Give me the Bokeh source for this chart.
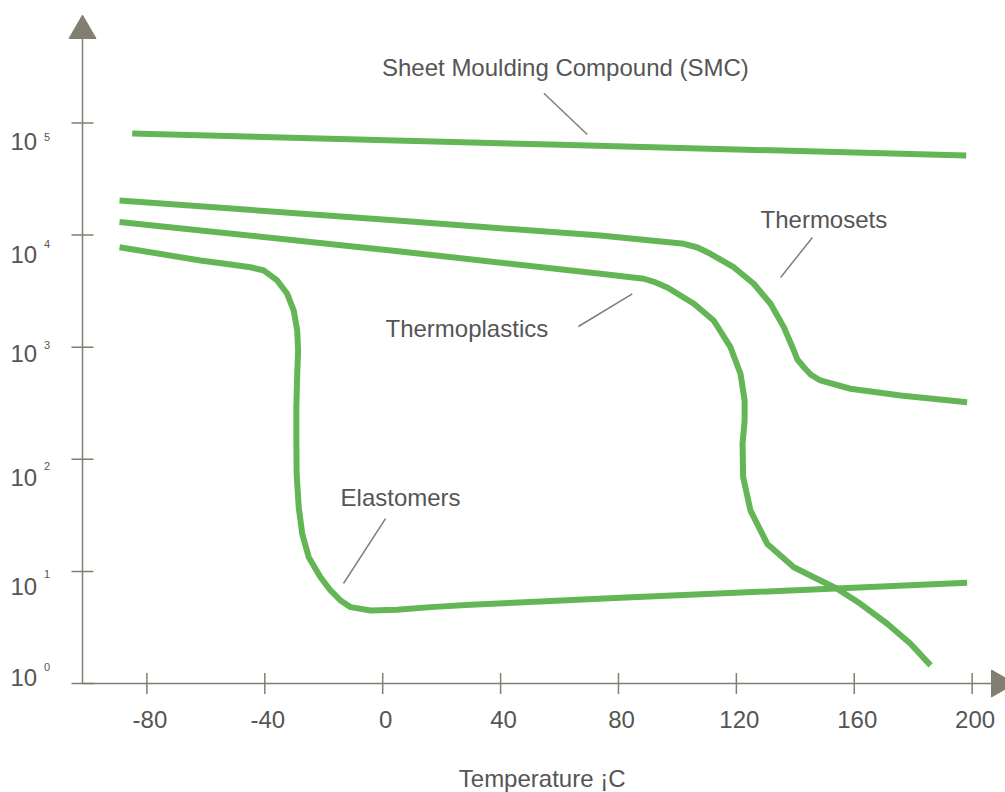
import math
from bokeh.plotting import figure
from bokeh.models import Range1d
from bokeh.embed import file_html
from bokeh.resources import INLINE
from bokeh.core.properties import value

# ---------------- data (temperature in °C, modulus on log scale) ----------------
x_ticks = [-80, -40, 0, 40, 80, 120, 160, 200]
x_tick_labels = ["-80", "-40", "0", "40", "80", "120", "160", "200"]
y_ticks = [1, 10, 100, 1000, 10000, 100000]
y_tick_base = ["10", "10", "10", "10", "10", "10"]
y_tick_exp = ["0", "1", "2", "3", "4", "5"]
x_title = "Temperature ¡C"

smc_T = [-85, 57, 198]
smc_E = [80500, 64300, 51300]

thermosets_T = [-89.3, 6.0, 73.9, 102.2, 106.8, 111.2, 119.1, 125.9, 131.6, 136.1,
                139.5, 140.7, 142.9, 145.2, 148.5, 158.7, 175.7, 198.3]
thermosets_E = [20400, 13400, 9910, 8360, 7750, 6810, 5170, 3680, 2440, 1510,
                935, 777, 663, 571, 505, 426, 371, 323]

thermoplastics_T = [-89.3, 6.0, 73.9, 88.6, 92.6, 96.6, 105.6, 112.3, 118.0, 121.4,
                    122.8, 122.8, 122.1, 122.3, 124.8, 130.5, 139.5, 148.5, 154.2,
                    162.1, 171.2, 179.1, 185.9]
thermoplastics_E = [13100, 7140, 4520, 4080, 3780, 3410, 2440, 1730, 1000, 579,
                    335, 222, 138, 69.2, 34.9, 17.6, 10.9, 8.30, 7.00,
                    5.14, 3.41, 2.26, 1.45]

elastomers_T = [-89.3, -61.8, -51.6, -44.9, -40.3, -35.8, -32.4, -30.2, -29.0, -28.7,
                -29.0, -29.3, -29.3, -29.2, -28.5, -27.3, -25.1, -21.1, -17.7, -14.3,
                -10.9, -4.1, 4.9, 16.2, 29.8, 80.7, 198.3]
elastomers_E = [7800, 5930, 5470, 5170, 4830, 3940, 2995, 2125, 1410, 935,
                579, 292, 147, 74.3, 37.4, 21.6, 13.4, 8.88, 6.76, 5.50,
                4.80, 4.48, 4.54, 4.80, 5.04, 5.82, 7.91]

curve_names = ["Sheet Moulding Compound (SMC)", "Thermosets", "Thermoplastics", "Elastomers"]
name_T = [-0.24, 128.2, 0.95, -14.3]
name_E = [260000, 11530, 1228, 38.2]

leader_T0 = [54.7, 145.8, 66.4, 0.95]
leader_E0 = [184500, 9520, 1530, 29.6]
leader_T1 = [69.4, 135.0, 84.7, -13.3]
leader_E1 = [78900, 4185, 2995, 7.80]

# ---------------- styling / layout ----------------
GREEN = "#64b556"
AXIS = "#827e72"
TEXT = "#555555"
FONT = "Liberation Sans"
FIX_BIG = 9     # vertical correction (px) for 24px text
FIX_SMALL = 4   # vertical correction (px) for 11px text

W, H = 1005, 792
PX_PER_X = 2.9472      # pixels per degree
PX_PER_DEC = 112.1     # pixels per decade
AX_T = -101.86         # temperature where the vertical axis stands
AX_E = 1.0             # modulus where the horizontal axis lies
AX_TOP = 10 ** 5.754   # top end of the vertical axis line
AX_RIGHT = 206.57      # right end of the horizontal axis line
AX_PX_X = 82           # pixel column of the vertical axis
AX_PX_Y = 683          # pixel row of the horizontal axis

XR = (AX_T - AX_PX_X / PX_PER_X, AX_T + (W - AX_PX_X) / PX_PER_X)
YR = (10 ** (-(H - AX_PX_Y) / PX_PER_DEC), 10 ** (AX_PX_Y / PX_PER_DEC))

p = figure(width=W, height=H, x_range=Range1d(*XR), y_range=Range1d(*YR),
           y_axis_type="log", x_axis_location=None, y_axis_location=None,
           output_backend="svg", toolbar_location=None,
           min_border_left=0, min_border_right=0, min_border_top=0, min_border_bottom=0)
p.outline_line_color = None
p.grid.visible = False
p.background_fill_color = "white"
p.border_fill_color = "white"

# axis lines
p.segment([AX_T, AX_T], [AX_E, AX_E], [AX_T, AX_RIGHT], [AX_TOP, AX_E],
          line_color=AXIS, line_width=1.5)

# tick marks (pixel-sized dashes crossing the axes)
p.scatter([AX_T] * len(y_ticks), y_ticks, marker="dash", size=22, angle=0,
          line_color=AXIS, line_width=1.5)
p.scatter(x_ticks, [AX_E] * len(x_ticks), marker="dash", size=21, angle=math.pi / 2,
          line_color=AXIS, line_width=1.5)

# arrow heads
HEAD_W = 27
head_h = HEAD_W * math.sqrt(3) / 2
p.scatter([AX_T], [AX_TOP * 10 ** (head_h / 3 / PX_PER_DEC)], marker="triangle",
          size=HEAD_W, angle=0, fill_color=AXIS, line_color=AXIS, line_width=1)
p.scatter([AX_RIGHT + head_h / 3 / PX_PER_X], [AX_E], marker="triangle",
          size=HEAD_W, angle=-math.pi / 2, fill_color=AXIS, line_color=AXIS, line_width=1)

# x tick labels
p.text(x_ticks, [AX_E] * len(x_ticks), text=x_tick_labels, x_offset=3,
       y_offset=45 - FIX_BIG,
       text_font=value(FONT), text_font_size="24px", text_color=TEXT,
       text_align="center", text_baseline="alphabetic")

# y tick labels "10" with superscript exponents
off_base = [o - FIX_BIG for o in [3, 24.1, 27.2, 15.3, 28.4, 27.5]]
off_exp = [o - FIX_SMALL for o in [-13, 6.1, 10.2, 1.3, 12.4, 17.5]]
p.text([AX_T] * len(y_ticks), y_ticks, text=y_tick_base, x_offset=-72, y_offset=off_base,
       text_font=value(FONT), text_font_size="24px", text_color=TEXT,
       text_align="left", text_baseline="alphabetic")
p.text([AX_T] * len(y_ticks), y_ticks, text=y_tick_exp, x_offset=-38.5, y_offset=off_exp,
       text_font=value(FONT), text_font_size="11px", text_color=TEXT,
       text_align="left", text_baseline="alphabetic")

# x title
p.text([54.1], [AX_E], text=[x_title], y_offset=103.7 - FIX_BIG, text_font=value(FONT),
       text_font_size="24px", text_color=TEXT, text_align="center",
       text_baseline="alphabetic")

# curves
for T, E in ((smc_T, smc_E), (thermosets_T, thermosets_E),
             (thermoplastics_T, thermoplastics_E), (elastomers_T, elastomers_E)):
    p.line(T, E, line_color=GREEN, line_width=6, line_join="round", line_cap="butt")

# leader lines
p.segment(leader_T0, leader_E0, leader_T1, leader_E1, line_color=AXIS, line_width=1.5)

# curve names
p.text(name_T, name_E, text=curve_names, y_offset=-FIX_BIG, text_font=value(FONT),
       text_font_size="24px", text_color=TEXT, text_align="left",
       text_baseline="alphabetic")

open("out.html", "w").write(file_html(p, INLINE))
